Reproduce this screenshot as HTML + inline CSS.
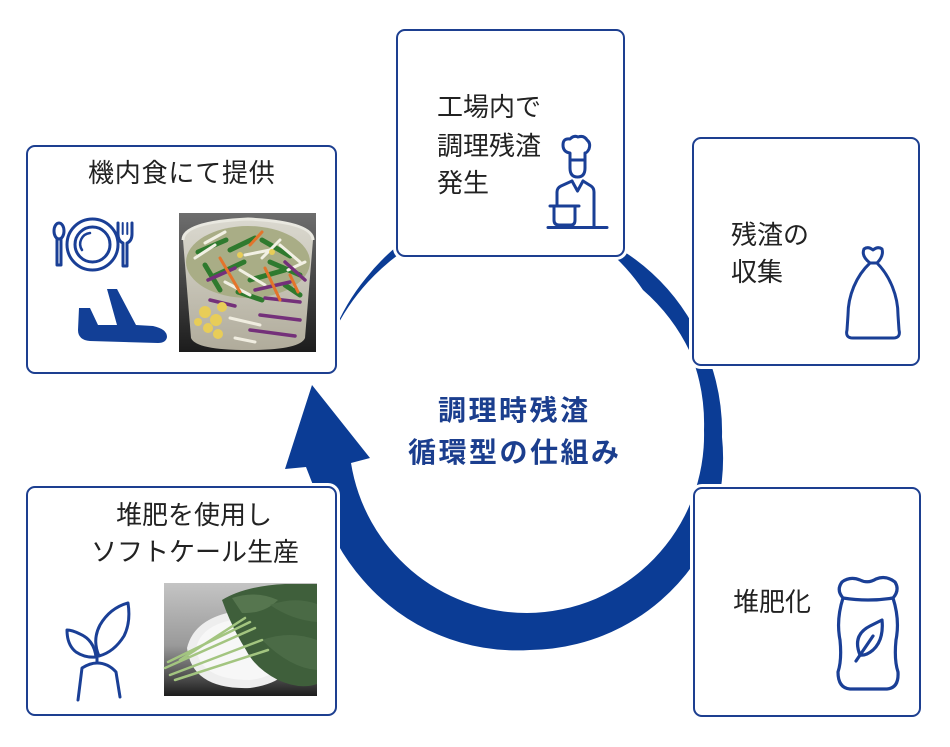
<!DOCTYPE html>
<html><head><meta charset="utf-8">
<style>
html,body{margin:0;padding:0;background:#fff;}
#c{position:relative;width:950px;height:747px;overflow:hidden;background:#fff;}
svg{position:absolute;left:0;top:0;}
.box{position:absolute;box-sizing:border-box;border:2px solid #1d3f90;border-radius:9px;background:#fff;box-shadow:0 0 0 3px #fff;z-index:2;}
.t{position:absolute;font-family:"Liberation Sans","Noto Sans CJK JP",sans-serif;font-size:26px;line-height:30px;height:30px;color:#222;white-space:nowrap;z-index:4;}
.m{position:absolute;font-family:"Liberation Sans","Noto Sans CJK JP",sans-serif;font-size:28px;font-weight:700;line-height:30px;height:30px;color:#1b3e8e;letter-spacing:2.5px;white-space:nowrap;z-index:4;}
</style></head>
<body><div id="c">

<svg width="950" height="747" style="z-index:1">
<path fill="#0b3c95" d="M312,385 L370,458 L351,463
A178,178 0 0 0 527,613
A178,178 0 0 0 704,430
A190,190 0 0 0 690,352
A190,190 0 0 0 643,290
A200,200 0 0 0 615,257
L600,248
A215,215 0 0 0 402,252
A215,215 0 0 0 368,282
A210,210 0 0 0 333,334
A210,210 0 0 1 366,278
A215,215 0 0 1 396,247
A218,218 0 0 1 632,257
A210,210 0 0 1 693,325
A210,210 0 0 1 722,437
A205,205 0 0 1 693,565
A203,203 0 0 1 530,650
A203,203 0 0 1 363,580
A210,210 0 0 1 337,543
A210,210 0 0 1 313,485
L306,467 L285,469 Z"/>
</svg>

<div class="box" style="left:26px;top:145px;width:311px;height:229px;"></div>
<div class="box" style="left:396px;top:29px;width:229px;height:228px;"></div>
<div class="box" style="left:692px;top:137px;width:228px;height:229px;"></div>
<div class="box" style="left:693px;top:487px;width:228px;height:230px;"></div>
<div class="box" style="left:26px;top:486px;width:311px;height:230px;"></div>

<svg width="950" height="747" style="z-index:3">
<defs>
<linearGradient id="sbg" x1="0" y1="0" x2="0" y2="1">
<stop offset="0" stop-color="#6e6e6e"/><stop offset="0.55" stop-color="#404040"/><stop offset="1" stop-color="#1c1c1c"/>
</linearGradient>
<linearGradient id="kbg" x1="0" y1="0" x2="0" y2="1">
<stop offset="0" stop-color="#c4c4c4"/><stop offset="0.55" stop-color="#9a9a9a"/><stop offset="0.85" stop-color="#4a4a4a"/><stop offset="1" stop-color="#1c1c1c"/>
</linearGradient>
<linearGradient id="cup" x1="0" y1="0" x2="0" y2="1">
<stop offset="0" stop-color="#e4e2d8"/><stop offset="1" stop-color="#bdb8a6"/>
</linearGradient>
</defs>

<!-- plate, spoon, fork -->
<g fill="none" stroke="#1a3f96" stroke-width="3" stroke-linecap="round" stroke-linejoin="round">
<ellipse cx="59" cy="231" rx="5" ry="8"/>
<path d="M57,239 L57,265 L61,265 L61,239"/>
<circle cx="92.5" cy="244.5" r="25.5"/>
<circle cx="92.5" cy="244.5" r="17.5"/>
<path d="M82,250 A11,11 0 0 1 90,233" stroke-width="2.5"/>
<path d="M118,223 L118,234 Q118,241 123,243 L123,266 L127,266 L127,243 Q132,241 132,234 L132,223"/>
<path d="M122.7,223 L122.7,234 M127.3,223 L127.3,234" stroke-width="2"/>
</g>
<!-- plane -->
<path fill="#123f96" d="M79,308 L90,308 L98,325 L117,325 L107,289 L117,289 L136,325 L153,326 Q167,329 167,337 Q166,343 158,343 L90,341 Q78,340 78,330 Z"/>

<!-- salad photo -->
<rect x="179" y="213" width="137" height="139" fill="url(#sbg)"/>
<path d="M183,240 Q183,222 248,219 Q313,222 313,240 L305,338 Q300,350 248,350 Q196,350 191,338 Z" fill="url(#cup)" opacity="0.92"/>
<ellipse cx="248" cy="262" rx="62" ry="36" fill="#a9ad86"/>
<g stroke-linecap="round" fill="none">
<path d="M198,252 L226,240 M214,276 L244,262 M262,240 L290,256 M250,280 L285,270 M205,265 L220,290 M270,262 L300,275 M230,250 L255,238 M285,285 L300,295 M238,292 L262,300" stroke="#2f7a2e" stroke-width="5"/>
<path d="M195,258 L215,245 M240,270 L265,285 M280,245 L300,262 M225,282 L250,295 M262,258 L280,240 M205,243 L225,232 M288,270 L305,262 M245,255 L270,250" stroke="#f2f0e4" stroke-width="3"/>
<path d="M208,280 L235,268 M255,290 L290,282 M285,262 L305,280 M210,300 L235,306 M265,298 L300,302 M260,315 L300,320 M250,330 L295,336" stroke="#74307a" stroke-width="3.5"/>
<path d="M220,258 L240,292 M265,268 L280,300 M250,245 L262,232 M290,275 L298,292" stroke="#e3742b" stroke-width="3"/>
<path d="M230,318 L260,325 M235,338 L255,342" stroke="#f0ede0" stroke-width="3"/>
</g>
<g fill="#e8cd58">
<circle cx="205" cy="312" r="6"/><circle cx="216" cy="320" r="6"/><circle cx="208" cy="328" r="5"/><circle cx="222" cy="307" r="5"/><circle cx="198" cy="322" r="4"/><circle cx="218" cy="334" r="5"/><circle cx="240" cy="255" r="3"/><circle cx="272" cy="252" r="3"/>
</g>
<path d="M183,240 Q183,222 248,219 Q313,222 313,240" fill="none" stroke="#e9e8e0" stroke-width="3"/>

<!-- chef -->
<g fill="none" stroke="#1a3f96" stroke-width="3" stroke-linecap="round" stroke-linejoin="round">
<path d="M570,160 L570,153 Q563,152 563,145 Q563,138 570,139 Q574,135 578,137 Q584,135 587,140 Q591,143 589,149 Q587,153 585,153 L585,160 Z"/>
<path d="M570,160 L570,168 Q570,177 577.5,177 Q585,177 585,168 L585,160"/>
<path d="M572,181 L561,186 Q557,188 557,192 L557,205"/>
<path d="M583,181 L591,186 Q594,188 594,192 L594,226"/>
<path d="M572,181 L577.5,191 L583,181"/>
<path d="M550,206 L579,206"/>
<path d="M554,206 L554,220 Q554,225 559,225 L571,225 Q575,225 575,220 L575,206"/>
<path d="M548,227.5 L607,227.5"/>
</g>

<!-- garbage bag -->
<g fill="none" stroke="#1a3f96" stroke-width="3" stroke-linecap="round" stroke-linejoin="round">
<path d="M870,263 C856,276 848,296 848,315 L847,330 Q845,338 853,338 L893,338 Q901,338 899,330 L898,315 C898,296 890,276 877,263"/>
<path d="M870,263 Q861,256 864,249 Q868,246 873,250 Q878,246 882,249 Q884,256 877,263 Z"/>
</g>

<!-- compost bag -->
<g fill="none" stroke="#1a3f96" stroke-width="3.2" stroke-linecap="round" stroke-linejoin="round">
<path d="M843,598 Q836,620 840,640 Q842,660 838,672 Q838,688 850,689 L887,689 Q899,688 898,672 Q894,660 896,640 Q900,620 893,598"/>
<path d="M843,598 Q836,590 842,582 Q850,576 860,580 Q868,584 876,579 Q886,575 895,582 Q900,590 893,598 Q868,602 843,598 Z"/>
<path d="M860,655 Q852,635 870,626 L882,620 Q884,640 873,650 Q866,656 860,655 Z"/>
<path d="M856,661 L873,636"/>
</g>

<!-- sprout -->
<g fill="none" stroke="#1a3f96" stroke-width="3" stroke-linecap="round" stroke-linejoin="round">
<path d="M99,656 Q92,640 100,625 Q110,608 128,603 Q131,622 124,636 Q114,652 99,656 Z"/>
<path d="M96,657 Q94,640 80,634 Q72,630 67,630 Q67,645 76,652 Q85,658 96,657 Z"/>
<path d="M78,700 L82,668 Q90,663 97,663 Q108,663 116,672 L120,697"/>
<path d="M97,663 L97,656"/>
</g>

<!-- kale photo -->
<rect x="164" y="583" width="153" height="113" fill="url(#kbg)"/>
<path d="M187,648 Q195,615 245,610 Q292,608 295,650 Q294,682 250,688 Q192,690 187,648 Z" fill="#eeeeee"/>
<path d="M196,648 Q202,622 245,618 Q285,617 286,650 Q284,676 250,680 Q200,680 196,648 Z" fill="#f7f7f7"/>
<path d="M222,600 Q245,586 285,584 L317,584 L317,684 Q300,690 278,680 Q255,668 246,650 Q232,628 222,600 Z" fill="#3f5f3b"/>
<path d="M232,598 Q256,590 278,600 Q264,614 242,613 Z" fill="#56764f"/>
<path d="M262,640 Q290,630 317,640 L317,670 Q290,668 262,640 Z" fill="#4b6b46"/>
<path d="M270,605 Q295,596 317,604 L317,622 Q292,620 270,605 Z" fill="#4a6a45"/>
<g stroke="#a3c580" stroke-width="2.5" stroke-linecap="round" fill="none">
<path d="M165,668 L255,628"/><path d="M168,662 L250,622"/><path d="M170,675 L262,640"/><path d="M180,660 L245,618"/><path d="M175,680 L268,650"/>
</g>
</svg>

<div class="t" style="left:88px;top:158px;letter-spacing:0.8px;">機内食にて提供</div>
<div class="t" style="left:437px;top:92px;">工場内で</div>
<div class="t" style="left:437px;top:131px;">調理残渣</div>
<div class="t" style="left:437px;top:168px;">発生</div>
<div class="t" style="left:731px;top:220px;">残渣の</div>
<div class="t" style="left:731px;top:257px;">収集</div>
<div class="t" style="left:733px;top:587px;">堆肥化</div>
<div class="t" style="left:116px;top:500px;">堆肥を使用し</div>
<div class="t" style="left:91px;top:537px;">ソフトケール生産</div>
<div class="m" style="left:438px;top:396px;">調理時残渣</div>
<div class="m" style="left:408px;top:438px;">循環型の仕組み</div>

</div></body></html>
